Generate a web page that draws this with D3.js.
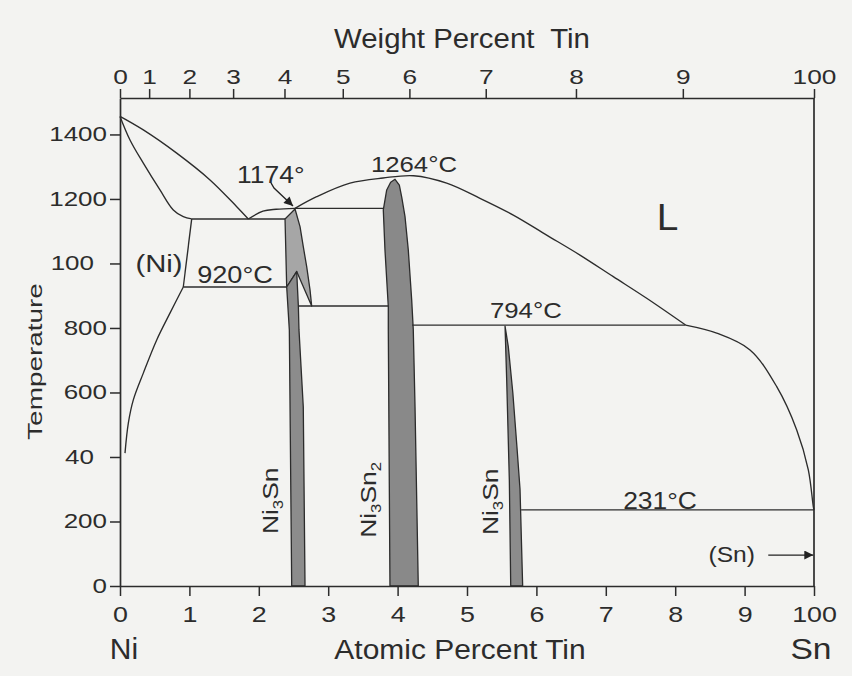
<!DOCTYPE html>
<html><head><meta charset="utf-8">
<script src="https://cdn.jsdelivr.net/npm/d3@7"></script>
<style>
html,body{margin:0;padding:0;background:#f3f3f1;}
svg{display:block;font-family:"Liberation Sans",Arial,Helvetica,sans-serif;}
</style></head><body>
<svg id="chart" width="852" height="676"></svg>
<script>
// ---------- DATA (atomic % Sn, temperature °C) ----------
const atomicTicks = [0,10,20,30,40,50,60,70,80,90,100];
const atomicTickLabels = ["0","1","2","3","4","5","6","7","8","9","100"];
const weightTickPositions = [0,4.2,10.0,16.3,23.7,32.1,41.7,52.7,65.7,81.1,100];
const weightTickLabels = ["0","1","2","3","4","5","6","7","8","9","100"];
const tempTicks = [0,200,400,600,800,1000,1200,1400];
const tempTickLabels = ["0","200","40","600","800","100","1200","1400"];

const liquidusNi = [[0,1456],[3.36,1414],[8.17,1342],[12.97,1259],[16.82,1176],[18.49,1138]];
const solidusNi = [[0,1456],[1.44,1383],[3.36,1311],[5.76,1228],[7.68,1166],[9.12,1145],[10.33,1138]];
const solvusNiUpper = [[10.33,1138],[9.12,927]];
const solvusNiLower = [[9.12,927],[7.2,846],[5.29,763],[3.36,660],[1.92,577],[1.2,505],[0.72,412]];
const eutecticNi = [[10.33,1138],[23.78,1138]];
const line920 = [[9.12,927],[24.02,927]];
const liquidusNi3SnLeft = [[18.49,1138],[20.6,1162],[22.5,1168],[25.22,1171]];
const line1171 = [[25.22,1171],[37.94,1171]];
const liquidusDome = [[25.22,1171],[28.34,1207],[33.14,1249],[37.9,1265],[42.3,1272],[47.07,1249],[51.87,1202],[56.67,1150],[61.48,1088],[66.28,1026],[71.08,959],[75.89,892],[81.5,809]];
const line868 = [[25.7,868],[38.66,868]];
const line809 = [[42.1,809],[81.5,809]];
const liquidusSn = [[81.5,809],[85.98,784],[90.78,732],[94.63,618],[97.51,484],[99.18,360],[99.9,246],[100,236]];
const line236 = [[57.8,236],[100,236]];

const phaseNi3SnHigh = [[25.22,1169],[23.78,1138],[24.02,927],[25.46,975],[27.62,868],[27.38,918],[26.9,990],[26.41,1052],[25.94,1114]];
const phaseNi3SnLow = [[24.02,927],[25.46,975],[25.7,868],[25.79,794],[26.41,555],[26.66,0],[24.74,0],[24.4,794]];
const phaseNi3Sn2 = [[39.63,1261],[40.25,1243],[40.6,1205],[41.07,1145],[41.54,1042],[42.03,887],[42.26,794],[42.51,556],[42.98,0],[38.9,0],[38.66,794],[38.66,866],[38.18,1042],[37.94,1166],[38.43,1228],[39.0,1252]];
const phaseNi3Sn4 = [[55.48,806],[55.95,742],[56.6,600],[57.2,430],[57.64,300],[58.02,0],[56.3,0],[56.1,329],[55.72,639]];

const arrow1174 = [[21.76,1250],[22.19,1234],[24.93,1178]];
const arrowSn = [[93.41,96],[99.9,96]];

const annotationTexts = ["1174°","1264°C","L","(Ni)","920°C","794°C","231°C","(Sn)"];
const compoundLabels = [["Ni","3","Sn",""],["Ni","3","Sn","2"],["Ni","3","Sn",""]];

// ---------- LAYOUT ----------
const svg = d3.select("#chart");
const x = d3.scaleLinear().domain([0,100]).range([120,814]);
const y = d3.scaleLinear().domain([0,1513]).range([586,98]);
const ink = "#2c2c2c";

const annotationLayout = [
  {at:21.73,t:1248,size:23,sx:1.15},
  {at:42.36,t:1285,size:23,sx:1.12},
  {at:78.89,t:1104,size:37,sx:1.05},
  {at:5.62,t:975,size:24,sx:1.22},
  {at:16.57,t:939,size:23,sx:1.18},
  {at:58.48,t:830,size:23,sx:1.12},
  {at:77.81,t:239,size:23,sx:1.15},
  {at:88.14,t:75,size:22,sx:1.12}
];
const compoundLayout = [
  {at:22.77,t:264},{at:36.89,t:267},{at:54.47,t:261}
];

function addText(content, px, py, o) {
  const t = svg.append("text")
    .attr("transform", `translate(${px},${py}) rotate(${o.rotate||0}) scale(${o.sx||1},1)`)
    .attr("text-anchor", o.anchor||"middle")
    .attr("font-size", o.size)
    .attr("fill", ink)
    .style("white-space","pre");
  t.text(content);
  return t;
}

// defs
const defs = svg.append("defs");
defs.append("marker").attr("id","ah").attr("viewBox","0 0 10 10")
  .attr("refX",10).attr("refY",5).attr("markerWidth",11).attr("markerHeight",9)
  .attr("markerUnits","userSpaceOnUse").attr("orient","auto")
  .append("path").attr("d","M0,0L10,5L0,10Z").attr("fill","#222");
defs.append("marker").attr("id","ah2").attr("viewBox","0 0 10 10")
  .attr("refX",10).attr("refY",5).attr("markerWidth",13).attr("markerHeight",9)
  .attr("markerUnits","userSpaceOnUse").attr("orient","auto")
  .append("path").attr("d","M0,0L10,5L0,10Z").attr("fill","#222");

const straight = d3.line().x(d=>x(d[0])).y(d=>y(d[1]));
const smooth = d3.line().x(d=>x(d[0])).y(d=>y(d[1])).curve(d3.curveCatmullRom.alpha(0.5));
const closed = d3.line().x(d=>x(d[0])).y(d=>y(d[1])).curve(d3.curveLinearClosed);

// phase regions
[[phaseNi3SnHigh,"#a6a6a6"],[phaseNi3SnLow,"#8c8c8c"],[phaseNi3Sn2,"#898989"],[phaseNi3Sn4,"#8c8c8c"]]
 .forEach(([p,c]) => svg.append("path").attr("d", closed(p)).attr("fill", c)
   .attr("stroke", ink).attr("stroke-width",1.3).attr("stroke-linejoin","round"));

// boundary curves
[liquidusNi, solidusNi, solvusNiLower, liquidusNi3SnLeft, liquidusDome, liquidusSn].forEach(l =>
  svg.append("path").attr("d", smooth(l)).attr("fill","none").attr("stroke",ink).attr("stroke-width",1.35));
[solvusNiUpper, eutecticNi, line920, line1171, line868, line809, line236].forEach(l =>
  svg.append("path").attr("d", straight(l)).attr("fill","none").attr("stroke",ink).attr("stroke-width",1.35));

// arrows
svg.append("path").attr("d", straight(arrow1174)).attr("fill","none").attr("stroke","#222")
  .attr("stroke-width",1.3).attr("marker-end","url(#ah)");
svg.append("path").attr("d", straight(arrowSn)).attr("fill","none").attr("stroke","#222")
  .attr("stroke-width",1.3).attr("marker-end","url(#ah2)");

// axes
function styleAxis(g){
  g.attr("font-family",null).attr("font-size",null);
  g.select(".domain").attr("stroke",ink).attr("stroke-width",1.7);
  g.selectAll(".tick line").attr("stroke",ink).attr("stroke-width",1.5);
  g.selectAll(".tick text").attr("fill",ink);
}
const gBottom = svg.append("g").attr("transform",`translate(0,${y(0)})`)
  .call(d3.axisBottom(x).tickValues(atomicTicks).tickFormat((d,i)=>atomicTickLabels[i]).tickSize(10).tickSizeOuter(0));
styleAxis(gBottom);
gBottom.selectAll(".tick text").attr("font-size",22).attr("y",20).attr("transform","scale(1.22,1)");

const gTop = svg.append("g").attr("transform",`translate(0,${y.range()[1]})`)
  .call(d3.axisTop(x).tickValues(weightTickPositions).tickFormat((d,i)=>weightTickLabels[i]).tickSize(9).tickSizeOuter(0));
styleAxis(gTop);
gTop.selectAll(".tick text").attr("font-size",21).attr("y",-14.5).attr("transform","scale(1.25,1)");

const gLeft = svg.append("g").attr("transform",`translate(${x(0)},0)`)
  .call(d3.axisLeft(y).tickValues(tempTicks).tickFormat((d,i)=>tempTickLabels[i]).tickSize(10).tickSizeOuter(0));
styleAxis(gLeft);
gLeft.selectAll(".tick text").attr("font-size",20).attr("x",-13/1.3).attr("transform","scale(1.3,1)")
  .attr("dx",(d,i)=> (-(String(d).length - tempTickLabels[i].length)*0.5)+"em");

// right frame
svg.append("line").attr("x1",x(100)).attr("x2",x(100)).attr("y1",y(0)).attr("y2",y.range()[1])
  .attr("stroke",ink).attr("stroke-width",1.7);

// axis titles
addText("Weight Percent  Tin", 462, 48, {size:28, sx:1.05});
addText("Atomic Percent Tin", 460, 659, {size:28, sx:1.07});
addText("Ni", 124, 659, {size:30, sx:1.0});
addText("Sn", 811, 659, {size:30, sx:1.12});
addText("Temperature", 41.5, 361.5, {size:21, sx:1.33, rotate:-90});

// annotations
annotationTexts.forEach((s,i)=>{
  const L = annotationLayout[i];
  addText(s, x(L.at), y(L.t), {size:L.size, sx:L.sx});
});

// compound labels (rotated, with subscripts)
compoundLabels.forEach((parts,i)=>{
  const L = compoundLayout[i];
  const t = svg.append("text")
    .attr("transform",`translate(${x(L.at)},${y(L.t)}) rotate(-90) scale(1.2,1)`)
    .attr("text-anchor","middle").attr("font-size",22).attr("fill",ink);
  t.append("tspan").text(parts[0]);
  t.append("tspan").attr("font-size",14).attr("dy",5).text(parts[1]);
  t.append("tspan").attr("dy",-5).text(parts[2]);
  if (parts[3]) {
    t.append("tspan").attr("font-size",14).attr("dy",5).text(parts[3]);
  }
});
</script></body></html>
